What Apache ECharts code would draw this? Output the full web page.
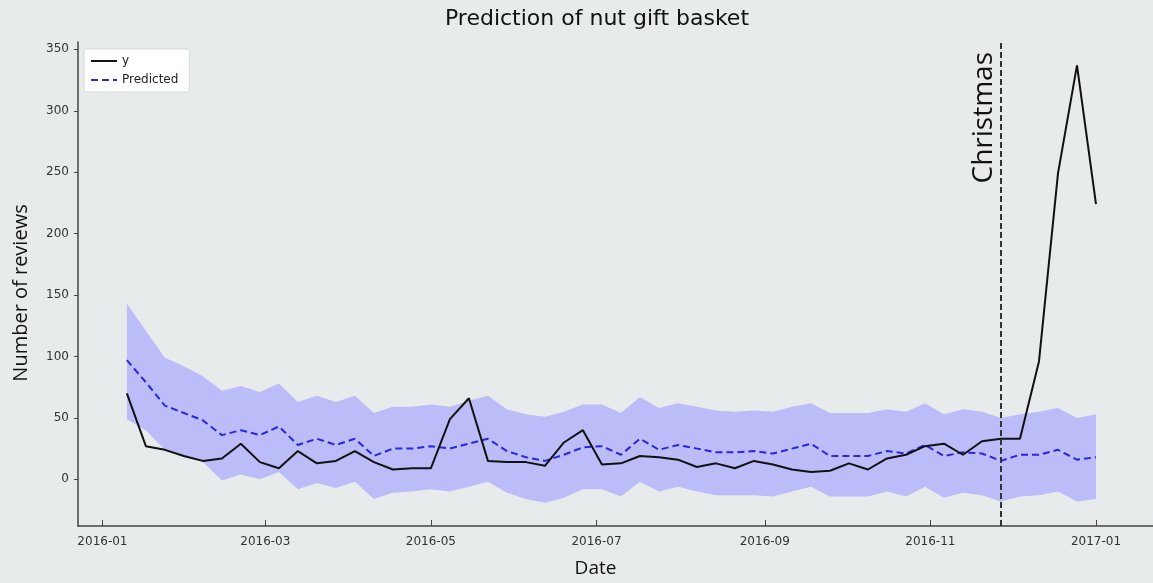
<!DOCTYPE html>
<html>
<head>
<meta charset="utf-8">
<script src="https://cdn.jsdelivr.net/npm/echarts@6/dist/echarts.min.js"></script>
<style>
html,body{margin:0;padding:0;background:#e8ebeb;}
#chart{width:1153px;height:583px;}
</style>
</head>
<body>
<div id="chart"></div>
<script>
// Weekly dates (Sundays) from 2016-01-10 to 2017-01-01
const startDate = '2016-01-10';
const weekCount = 52;

const actual = [70, 27, 24, 19, 15, 17, 29, 14, 9, 23, 13, 15, 23, 14, 8, 9, 9, 49, 66, 15, 14, 14, 11, 30, 40, 12, 13, 19, 18, 16, 10, 13, 9, 15, 12, 8, 6, 7, 13, 8, 17, 20, 27, 29, 20, 31, 33, 33, 96, 249, 337, 224];
const predicted = [97, 79, 60, 54, 48, 36, 40, 36, 43, 28, 33, 28, 33, 19, 25, 25, 27, 25, 29, 33, 23, 18, 15, 20, 26, 27, 20, 33, 24, 28, 25, 22, 22, 23, 21, 25, 29, 19, 19, 19, 23, 21, 28, 19, 22, 21, 15, 20, 20, 24, 16, 18];
const upper = [143, 121, 99, 92, 84, 72, 76, 71, 78, 63, 68, 63, 68, 54, 59, 59, 61, 59, 64, 68, 57, 53, 51, 55, 61, 61, 54, 67, 58, 62, 59, 56, 55, 56, 55, 59, 62, 54, 54, 54, 57, 55, 62, 53, 57, 55, 50, 53, 55, 58, 50, 53];
const lower = [49, 40, 24, 18, 14, -1, 4, 0, 6, -8, -3, -7, -2, -16, -11, -10, -8, -10, -6, -2, -11, -16, -19, -15, -8, -8, -14, -2, -10, -6, -10, -13, -13, -13, -14, -10, -6, -14, -14, -14, -10, -14, -6, -15, -11, -13, -18, -14, -13, -10, -18, -16];

const xTickLabels = ['2016-01', '2016-03', '2016-05', '2016-07', '2016-09', '2016-11', '2017-01'];
const yTickValues = [0, 50, 100, 150, 200, 250, 300, 350];
const eventDate = '2016-11-27';
const eventLabel = 'Christmas';

const DAY = 86400000;
function parseDay(s){ const p = s.split('-').map(Number); return Date.UTC(p[0], p[1]-1, p[2] || 1); }
const t0 = parseDay(startDate);
const dates = [];
for (let i = 0; i < weekCount; i++) dates.push(t0 + i * 7 * DAY);
const xTickValues = xTickLabels.map(parseDay);
const pair = arr => arr.map((v, i) => [dates[i], v]);
const bandData = dates.map((d, i) => [d, lower[i], upper[i]]);

const chart = echarts.init(document.getElementById('chart'), null, {renderer: 'canvas'});
chart.setOption({
  backgroundColor: '#e8ebeb',
  animation: false,
  title: {
    text: 'Prediction of nut gift basket',
    left: 592, top: 3, textAlign: 'center',
    textStyle: {fontFamily: 'DejaVu Sans', fontSize: 22, fontWeight: 'normal', color: '#111'}
  },
  legend: {
    data: ['y', 'Predicted'],
    orient: 'vertical',
    left: 84, top: 49,
    backgroundColor: '#ffffff',
    borderColor: '#d8d8d8', borderWidth: 1, borderRadius: 2,
    padding: [6, 11, 6, 6],
    itemGap: 7, itemWidth: 26, itemHeight: 12,
    itemStyle: {opacity: 0},
    textStyle: {fontFamily: 'DejaVu Sans', fontSize: 12, color: '#222'}
  },
  grid: {left: 78, right: 0, top: 42, height: 488, containLabel: false},
  xAxis: {
    type: 'value',
    min: Date.UTC(2015, 11, 23),
    max: Date.UTC(2017, 0, 22),
    name: 'Date', nameLocation: 'middle', nameGap: 33,
    nameTextStyle: {fontFamily: 'Open Sans', fontSize: 19, color: '#111', padding: [0, 40, 0, 0]},
    axisLine: {onZero: false, lineStyle: {color: '#444', width: 1.5}},
    axisTick: {show: true, inside: true, length: 6, customValues: xTickValues, lineStyle: {color: '#444'}},
    axisLabel: {
      customValues: xTickValues,
      formatter: function (v) {
        const d = new Date(v);
        const m = d.getUTCMonth() + 1;
        return d.getUTCFullYear() + '-' + (m < 10 ? '0' + m : m);
      },
      fontFamily: 'DejaVu Sans', fontSize: 12, color: '#333', margin: 10
    },
    splitLine: {show: false}
  },
  yAxis: {
    type: 'value',
    min: -38, max: 356,
    name: 'Number of reviews', nameLocation: 'middle', nameGap: 47,
    nameTextStyle: {fontFamily: 'Open Sans', fontSize: 20, color: '#111', padding: [0, 18, 0, 0]},
    axisLine: {show: true, onZero: false, lineStyle: {color: '#444', width: 1.5}},
    axisTick: {show: true, inside: false, length: 4, customValues: yTickValues, lineStyle: {color: '#444'}},
    axisLabel: {customValues: yTickValues, fontFamily: 'DejaVu Sans', fontSize: 12, color: '#333', margin: 9},
    splitLine: {show: false}
  },
  series: [
    {
      name: 'band', type: 'custom', silent: true, z: 1,
      data: bandData,
      encode: {x: 0, y: [1, 2]},
      renderItem: function (params, api) {
        if (params.dataIndex !== 0) return null;
        const pts = [];
        for (let i = 0; i < bandData.length; i++) pts.push(api.coord([bandData[i][0], bandData[i][2]]));
        for (let i = bandData.length - 1; i >= 0; i--) pts.push(api.coord([bandData[i][0], bandData[i][1]]));
        return {type: 'polygon', shape: {points: pts}, style: {fill: '#bcbcf8'}};
      }
    },
    {
      name: 'y', type: 'line', data: pair(actual), symbol: 'none', z: 3,
      lineStyle: {color: '#111', width: 2}, itemStyle: {color: '#111'},
      markLine: {
        symbol: 'none', silent: true,
        lineStyle: {color: '#333', type: [6, 3], width: 2},
        label: {
          show: true, position: 'insideEndTop', formatter: eventLabel,
          fontFamily: 'Open Sans', fontSize: 28, color: '#111', distance: [10, 3]
        },
        data: [{xAxis: parseDay(eventDate)}]
      }
    },
    {
      name: 'Predicted', type: 'line', data: pair(predicted), symbol: 'none', z: 2,
      lineStyle: {color: '#2828dc', width: 2, type: [7, 4]}, itemStyle: {color: '#2828dc'}
    }
  ]
});
</script>
</body>
</html>
